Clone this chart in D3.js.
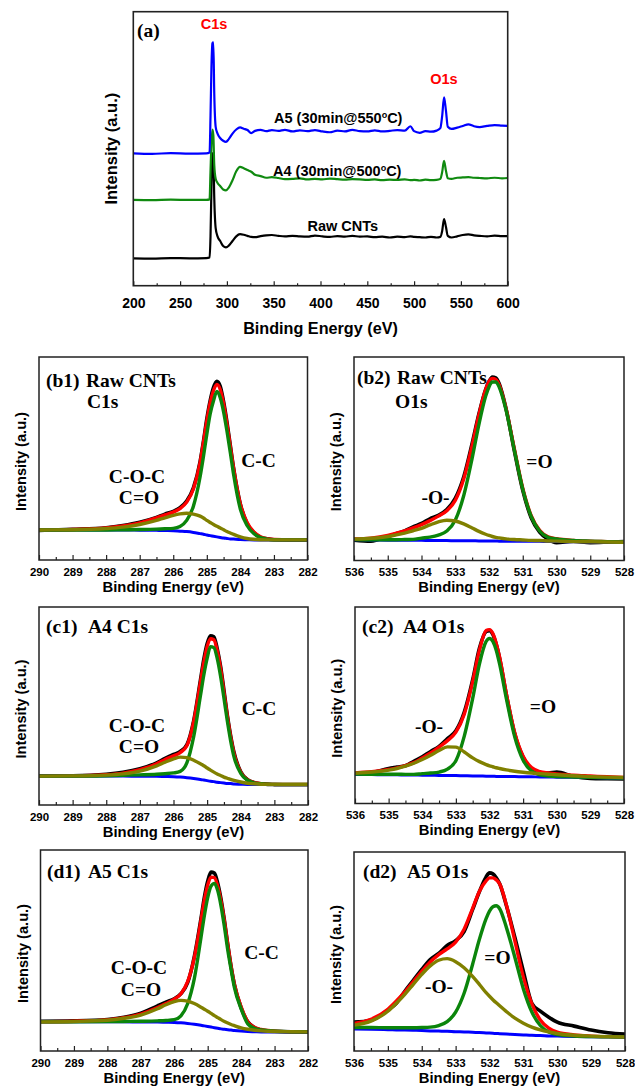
<!DOCTYPE html>
<html>
<head>
<meta charset="utf-8">
<script src="https://cdn.jsdelivr.net/npm/d3@7"></script>
<style>
  body { margin: 0; background: #fff; }
</style>
</head>
<body>
<div id="chart"></div>
<script>
// ---- survey spectra (a): binding energy grid and intensities (arb. units, 0 = frame bottom, 100 = frame top)
const surveyEnergy = [200, 220, 240, 260, 278, 281.5, 282.5, 283.5, 284.5, 285.5, 286.5, 288, 290, 293, 296, 299, 302, 306, 310, 314, 318, 322, 326, 330, 336, 342, 348, 355, 362, 370, 378, 386, 394, 402, 410, 418, 426, 434, 442, 450, 458, 466, 474, 482, 490, 496, 500, 506, 512, 518, 524, 528, 530, 532, 534, 536, 540, 546, 552, 558, 564, 570, 578, 586, 594, 600];
const surveyRaw = [10.0, 9.9, 10.1, 10.0, 10.1, 10.3, 18, 36, 47.5, 48.5, 32, 21, 18, 16.2, 14.5, 14.0, 14.6, 16.3, 18.0, 18.8, 18.6, 18.2, 17.8, 17.7, 18.1, 18.4, 18.5, 18.2, 18.0, 18.2, 18.0, 17.9, 18.3, 18.0, 17.8, 18.1, 17.9, 18.2, 17.9, 18.0, 17.7, 17.9, 17.6, 17.9, 17.7, 18.0, 17.8, 17.7, 17.6, 17.8, 17.6, 17.8, 20.0, 24.3, 21.5, 18.2, 17.6, 18.0, 18.5, 18.7, 18.4, 18.2, 18.0, 18.3, 18.1, 18.1];
const surveyA4 = [31.3, 31.2, 31.4, 31.3, 31.3, 31.5, 42, 52, 57, 55, 44, 39, 37.5, 36.3, 35.1, 34.8, 35.8, 38.5, 41.8, 43.4, 42.9, 42.2, 41.6, 40.5, 40.0, 39.4, 39.6, 39.3, 38.9, 39.0, 39.2, 38.8, 39.0, 38.8, 39.1, 38.9, 38.7, 38.9, 38.8, 38.6, 38.8, 38.5, 38.7, 38.6, 38.8, 38.5, 38.6, 38.4, 38.7, 38.5, 38.6, 39.0, 41.5, 45.6, 42.0, 39.2, 39.0, 39.4, 39.5, 39.6, 39.4, 39.3, 39.2, 39.4, 39.2, 39.3];
const surveyA5 = [48.3, 48.1, 48.4, 48.2, 48.3, 48.6, 62, 80, 88.5, 88.8, 70, 58, 55.5, 53.8, 52.9, 52.5, 53.5, 55.5, 57.0, 57.8, 57.3, 56.8, 55.7, 56.5, 56.9, 56.4, 56.8, 56.5, 56.9, 56.3, 56.7, 56.4, 56.8, 56.3, 56.0, 56.6, 56.3, 56.9, 56.4, 56.3, 56.7, 56.3, 56.5, 56.8, 56.6, 58.2, 56.4, 55.8, 56.4, 56.2, 56.6, 57.5, 62.0, 68.7, 64.0, 58.0, 57.2, 57.7, 58.3, 58.9, 58.2, 57.9, 58.3, 58.6, 58.4, 58.3];
const surveyTicks = [200, 250, 300, 350, 400, 450, 500, 550, 600];

// ---- C1s high resolution grid
const c1sEnergy = [290, 289, 288, 287.5, 287, 286.5, 286.25, 286, 285.8, 285.6, 285.4, 285.2, 285.1, 285.0, 284.9, 284.8, 284.7, 284.6, 284.5, 284.4, 284.3, 284.2, 284.0, 283.8, 283.6, 283.4, 283.2, 283.0, 282.5, 282];
const c1sTicks = [290, 289, 288, 287, 286, 285, 284, 283, 282];

// (b1) Raw CNTs C1s
const b1Data  = [14.6, 15.1, 15.9, 17.0, 18.6, 21.0, 22.6, 24.0, 25.8, 29, 35.5, 48.5, 58.5, 69.5, 78.5, 85, 88, 85.5, 78, 68, 56.5, 45, 27.5, 18, 13.5, 11.2, 10.4, 10.0, 9.8, 9.8];
const b1Fit   = [14.8, 15.0, 15.8, 16.8, 18.3, 20.8, 22.2, 23.6, 25.3, 28.5, 35, 48, 58, 68.5, 77.5, 83.5, 86.5, 84, 77, 67, 56, 45, 27.5, 18.5, 13.8, 11.5, 10.5, 10.1, 9.9, 9.9];
const b1Base  = [14.8, 14.8, 14.8, 14.8, 14.7, 14.6, 14.5, 14.4, 14.2, 14.0, 13.6, 13.0, 12.7, 12.3, 12.0, 11.7, 11.4, 11.1, 10.8, 10.6, 10.4, 10.3, 10.1, 10.0, 9.9, 9.9, 9.9, 9.9, 9.9, 9.9];
const b1CC    = [14.8, 14.8, 14.8, 14.9, 15.0, 15.2, 15.4, 15.6, 16.5, 19.5, 26.5, 41, 51, 62, 72, 78.5, 83, 80, 73, 63.5, 53, 42, 25, 17, 13, 11, 10.3, 10, 9.9, 9.9];
const b1COC   = [14.8, 14.9, 15.5, 16.2, 17.5, 19.5, 20.8, 22.0, 22.7, 23.0, 22.6, 21.6, 20.7, 19.5, 18.5, 17.5, 16.6, 15.8, 14.9, 14.0, 13.3, 12.6, 11.4, 10.6, 10.2, 10.0, 9.9, 9.9, 9.9, 9.9];

// (c1) A4 C1s
const c1Data  = [14.7, 14.8, 15.5, 16.5, 18.3, 21.3, 23.5, 25.5, 27, 30.5, 42.5, 63, 73.5, 81.5, 85.5, 85, 79, 70, 58, 45.5, 35, 26.5, 16.8, 12.8, 11.3, 10.7, 10.4, 10.3, 10.2, 10.2];
const c1Fit   = [14.6, 14.7, 15.3, 16.1, 17.8, 20.8, 23.0, 24.8, 26.5, 30, 42, 62, 72, 80, 84, 83.5, 78, 69, 57, 45, 34.5, 26, 16.5, 12.8, 11.4, 10.8, 10.5, 10.4, 10.4, 10.4];
const c1Base  = [14.6, 14.6, 14.6, 14.6, 14.5, 14.5, 14.4, 14.3, 14.1, 13.8, 13.4, 12.9, 12.6, 12.3, 12.0, 11.8, 11.5, 11.3, 11.1, 10.9, 10.8, 10.6, 10.5, 10.4, 10.4, 10.4, 10.4, 10.4, 10.4, 10.4];
const c1CC    = [14.6, 14.6, 14.8, 15.0, 15.2, 15.5, 15.8, 16.2, 17, 21.4, 34.5, 55, 65.5, 74, 80, 79.5, 74, 65, 54, 42.5, 32.4, 24.3, 16, 12.5, 11.2, 10.7, 10.5, 10.4, 10.4, 10.4];
const c1COC   = [14.6, 14.7, 15.1, 15.7, 17.1, 19.8, 21.6, 23.3, 24.2, 23.9, 22.6, 20.8, 19.8, 18.7, 17.6, 16.6, 15.7, 14.9, 14.1, 13.5, 12.9, 12.4, 11.6, 11.0, 10.7, 10.5, 10.4, 10.4, 10.4, 10.4];

// (d1) A5 C1s
const d1Data  = [14.8, 15.0, 15.7, 16.8, 18.8, 22.5, 24.3, 26, 28.5, 34, 47, 66, 76.5, 84.5, 89, 88.5, 83.5, 75.5, 65, 53, 42, 33, 21.5, 14.5, 11.6, 10.5, 10.0, 9.8, 9.5, 9.4];
const d1Fit   = [14.5, 14.8, 15.5, 16.6, 18.4, 21.6, 23.6, 25.8, 28.5, 34.5, 46.5, 65, 75, 82.5, 86.5, 86.3, 82, 74.5, 64.5, 53, 42, 33, 22, 14.5, 11.8, 10.7, 10.2, 9.9, 9.6, 9.5];
const d1Base  = [14.5, 14.5, 14.5, 14.5, 14.4, 14.4, 14.3, 14.2, 14.0, 13.7, 13.3, 12.8, 12.5, 12.2, 11.9, 11.6, 11.3, 11.0, 10.8, 10.6, 10.4, 10.2, 9.9, 9.7, 9.6, 9.5, 9.5, 9.5, 9.5, 9.5];
const d1CC    = [14.5, 14.5, 14.6, 14.7, 14.8, 15.0, 15.2, 15.6, 17.5, 23.5, 36, 56.5, 67.3, 76.3, 82, 83.4, 79.8, 72.1, 61.8, 50.3, 40.5, 31.5, 21, 13.5, 11.3, 10.5, 10.1, 9.8, 9.6, 9.5];
const d1COC   = [14.5, 14.7, 15.3, 16.3, 17.9, 21, 23, 24.6, 25.2, 24.8, 23.6, 21.8, 20.8, 19.8, 18.7, 17.6, 16.6, 15.6, 14.7, 13.9, 13.2, 12.6, 11.5, 10.8, 10.3, 10.0, 9.8, 9.7, 9.6, 9.5];

// ---- O1s high resolution grid
const o1sEnergy = [536, 535.5, 535, 534.75, 534.5, 534.25, 534, 533.75, 533.5, 533.25, 533, 532.75, 532.5, 532.3, 532.1, 532.0, 531.9, 531.8, 531.7, 531.5, 531.25, 531, 530.75, 530.5, 530.25, 530, 529.5, 529, 528.5, 528];
const o1sTicks = [536, 535, 534, 533, 532, 531, 530, 529, 528];

// (b2) Raw CNTs O1s
const b2Data  = [10.0, 9.5, 11.8, 13.2, 14.5, 16.5, 18.2, 20.5, 22.2, 25, 30.5, 41, 57.5, 72, 84, 88, 90.2, 89.8, 87, 75, 54, 34.5, 21, 14, 10.5, 8.8, 9.5, 8.8, 9.0, 9.3];
const b2Fit   = [10.6, 11.0, 12.3, 13.4, 14.6, 16, 17.6, 19.6, 21.8, 24.5, 29.5, 40, 56.5, 71.5, 84, 88, 89.5, 89, 86.4, 75, 55, 35.5, 22, 14.8, 11.6, 10.7, 9.9, 9.5, 9.3, 9.1];
const b2Base  = [10.2, 10.1, 10.0, 10.0, 9.9, 9.9, 9.9, 9.8, 9.8, 9.8, 9.7, 9.7, 9.7, 9.6, 9.6, 9.6, 9.6, 9.6, 9.5, 9.5, 9.5, 9.4, 9.4, 9.4, 9.3, 9.3, 9.2, 9.1, 9.1, 9.0];
const b2DblO  = [10.3, 10.2, 10.2, 10.2, 10.3, 10.4, 11, 11.5, 12.5, 14.5, 19.8, 31.8, 50.2, 66.8, 80.7, 85.3, 87.7, 87.7, 85.3, 74.3, 54.4, 35.1, 21.7, 14.5, 11.4, 10.6, 9.8, 9.5, 9.3, 9.1];
const b2SglO  = [10.5, 10.9, 11.8, 12.6, 13.5, 14.6, 15.8, 17.5, 19.0, 19.8, 19.4, 18.0, 16.0, 14.3, 12.9, 12.3, 11.8, 11.4, 11.1, 10.6, 10.3, 10.1, 9.9, 9.8, 9.6, 9.5, 9.3, 9.2, 9.1, 9.0];

// (c2) A4 O1s
const c2Data  = [15.0, 15.8, 17.8, 18.5, 19.2, 21.5, 23.8, 26.5, 29, 33, 37, 46.5, 63, 79, 87.5, 88, 86, 81, 74, 55.5, 35.5, 23.5, 17.5, 15.5, 15.5, 16.0, 13.8, 12.8, 12.6, 12.5];
const c2Fit   = [15.6, 16.2, 17.3, 18.1, 19.3, 20.8, 23.2, 25.7, 28.7, 32, 36.3, 45.5, 62, 78, 88, 88.5, 86.5, 81.5, 74.5, 56, 36, 24, 18.3, 16.2, 15.5, 15.0, 14.4, 14.0, 13.6, 13.3];
const c2Base  = [14.8, 14.7, 14.6, 14.6, 14.5, 14.5, 14.4, 14.4, 14.3, 14.3, 14.2, 14.1, 14.0, 14.0, 13.9, 13.9, 13.9, 13.8, 13.8, 13.7, 13.7, 13.6, 13.6, 13.5, 13.5, 13.4, 13.3, 13.2, 13.0, 12.9];
const c2DblO  = [15.0, 14.9, 14.9, 14.9, 14.8, 14.8, 15.2, 15.5, 16.0, 17.5, 21.8, 34.3, 53.5, 71, 82.5, 84, 82.5, 78, 71, 53.5, 33.9, 22, 16.5, 14.6, 14.0, 13.7, 13.5, 13.3, 13.1, 13.0];
const c2SglO  = [15.4, 16.0, 17.0, 17.8, 19.0, 20.5, 22.4, 24.6, 27.0, 28.8, 28.7, 26.2, 23.2, 21.3, 19.8, 19.2, 18.7, 18.2, 17.8, 17.1, 16.4, 15.9, 15.5, 15.2, 14.9, 14.6, 14.1, 13.7, 13.4, 13.2];

// (d2) A5 O1s
const d2Data  = [14.5, 15.5, 20.5, 24, 30, 35.5, 41, 46, 49, 53, 55.5, 60, 71, 80, 87.5, 89.5, 89, 87, 84, 73, 57, 40, 24, 20, 17, 14.5, 12.5, 10.5, 9.2, 8.5];
const d2Fit   = [13.8, 15.9, 21, 25.1, 29.7, 34.8, 40, 44.7, 48.4, 51.3, 54.7, 61.2, 71.6, 80.2, 85.5, 87, 87, 86, 84, 73.3, 55.2, 37.1, 23.7, 15.6, 11.5, 9.5, 8.1, 7.5, 7.2, 7.0];
const d2Base  = [11.0, 10.9, 10.7, 10.6, 10.5, 10.4, 10.3, 10.1, 10.0, 9.9, 9.7, 9.6, 9.4, 9.3, 9.1, 9.0, 8.9, 8.8, 8.7, 8.5, 8.3, 8.1, 7.9, 7.8, 7.6, 7.5, 7.3, 7.2, 7.1, 7.0];
const d2DblO  = [11.8, 11.8, 11.7, 11.7, 11.7, 11.7, 11.8, 12.0, 12.8, 14.8, 19.5, 29, 43.5, 56, 66.5, 70.3, 72.5, 73, 71.5, 62, 47, 31.2, 19.6, 12.8, 9.5, 8.2, 7.5, 7.2, 7.1, 7.0];
const d2SglO  = [13, 15, 20, 24, 28.5, 33.5, 38.5, 42.8, 45.6, 46.4, 44.9, 41.8, 37.5, 33.5, 29.3, 27.5, 25.8, 24.2, 22.7, 19.8, 16.5, 14, 12, 10.6, 9.6, 8.8, 7.9, 7.5, 7.2, 7.0];

// ---------------------------------------------------------------------------
const W = 635, H = 1090;
const SANS = '"Liberation Sans", Arial, sans-serif';
const SERIF = '"Liberation Serif", "Times New Roman", serif';
const colBlack = '#000000', colRed = '#ff0000', colBlue = '#0000ff', colGreen = '#0b850b', colOlive = '#808000';

const svg = d3.select('#chart').append('svg')
    .attr('width', W)
    .attr('height', H)
    .style('display', 'block');

svg.append('rect').attr('width', W).attr('height', H).attr('fill', '#fff');

function addText(x, y, txt, opts) {
    opts = opts || {};
    return svg.append('text')
        .attr('x', x)
        .attr('y', y)
        .attr('font-family', opts.serif ? SERIF : SANS)
        .attr('font-weight', 'bold')
        .attr('font-size', opts.size || 14)
        .attr('text-anchor', opts.anchor || 'start')
        .attr('fill', opts.fill || '#000')
        .text(txt);
}

function styleTicks(g, size) {
    g.select('.domain').remove();
    g.selectAll('line').attr('stroke', '#222').attr('stroke-width', 1.2);
    g.selectAll('text')
        .attr('font-family', SANS)
        .attr('font-weight', 'bold')
        .attr('font-size', size)
        .attr('fill', '#000');
}

//---------------- panel (a): survey
(function () {
    const x0 = 133.3, x1 = 507.7, y0 = 11.7, y1 = 285.7;
    const x = d3.scaleLinear().domain([200, 600]).range([x0, x1]);
    const y = d3.scaleLinear().domain([0, 100]).range([y1, y0]);

    const line = d3.line()
        .x((d, i) => x(surveyEnergy[i]))
        .y(d => y(d))
        .curve(d3.curveMonotoneX);

    [[surveyRaw, colBlack], [surveyA4, '#108a10'], [surveyA5, colBlue]].forEach(function (s) {
        svg.append('path')
            .datum(s[0])
            .attr('d', line)
            .attr('fill', 'none')
            .attr('stroke', s[1])
            .attr('stroke-width', 2.2)
            .attr('stroke-linejoin', 'round');
    });

    //major and minor ticks, pointing inwards
    svg.append('g')
        .attr('transform', 'translate(0,' + y1 + ')')
        .call(d3.axisBottom(x).tickValues(surveyTicks).tickSize(-4.5).tickPadding(12.5).tickFormat(d3.format('d')))
        .call(g => styleTicks(g, 14));
    svg.append('g')
        .attr('transform', 'translate(0,' + y1 + ')')
        .call(d3.axisBottom(x).tickValues(surveyTicks.slice(1).map(v => v - 25)).tickSize(-2.5).tickFormat(''))
        .call(g => styleTicks(g, 14));

    svg.append('rect')
        .attr('x', x0).attr('y', y0)
        .attr('width', x1 - x0).attr('height', y1 - y0)
        .attr('fill', 'none').attr('stroke', '#222').attr('stroke-width', 1.6);

    addText(137, 36.5, '(a)', {serif: true, size: 19.5});
    addText(214, 28.5, 'C1s', {anchor: 'middle', size: 14.5, fill: colRed});
    addText(444, 83.5, 'O1s', {anchor: 'middle', size: 14.5, fill: colRed});

    const t5 = addText(274, 123.3, '', {size: 14.5});
    t5.append('tspan').text('A5 (30min@550');
    t5.append('tspan').attr('dy', -5.5).attr('font-size', 9).text('o');
    t5.append('tspan').attr('dy', 5.5).text('C)');
    const t4 = addText(273, 176, '', {size: 14.5});
    t4.append('tspan').text('A4 (30min@500');
    t4.append('tspan').attr('dy', -5.5).attr('font-size', 9).text('o');
    t4.append('tspan').attr('dy', 5.5).text('C)');
    addText(307.5, 230.7, 'Raw CNTs', {size: 14.5});

    addText((x0 + x1) / 2, 334, 'Binding Energy (eV)', {anchor: 'middle', size: 16.2});
    svg.append('text')
        .attr('transform', 'translate(116.5,' + ((y0 + y1) / 2) + ') rotate(-90)')
        .attr('text-anchor', 'middle')
        .attr('font-family', SANS).attr('font-weight', 'bold').attr('font-size', 16.5)
        .text('Intensity (a.u.)');
})();

//---------------- high-resolution panels
const panels = [
    {id: 'b1', x0: 39, x1: 307.5, y0: 357, y1: 560, domain: [290, 282], energy: c1sEnergy, ticks: c1sTicks,
        series: [b1Data, b1Fit, b1Base, b1CC, b1COC]},
    {id: 'b2', x0: 354, x1: 624, y0: 357, y1: 560.5, domain: [536, 528], energy: o1sEnergy, ticks: o1sTicks,
        series: [b2Data, b2Fit, b2Base, b2DblO, b2SglO]},
    {id: 'c1', x0: 39, x1: 308, y0: 607, y1: 805, domain: [290, 282], energy: c1sEnergy, ticks: c1sTicks,
        series: [c1Data, c1Fit, c1Base, c1CC, c1COC]},
    {id: 'c2', x0: 355, x1: 624, y0: 607, y1: 803.5, domain: [536, 528], energy: o1sEnergy, ticks: o1sTicks,
        series: [c2Data, c2Fit, c2Base, c2DblO, c2SglO]},
    {id: 'd1', x0: 40.5, x1: 308, y0: 850, y1: 1051, domain: [290, 282], energy: c1sEnergy, ticks: c1sTicks,
        series: [d1Data, d1Fit, d1Base, d1CC, d1COC]},
    {id: 'd2', x0: 354, x1: 625, y0: 852, y1: 1051, domain: [536, 528], energy: o1sEnergy, ticks: o1sTicks,
        series: [d2Data, d2Fit, d2Base, d2DblO, d2SglO]}
];
const seriesColors = [colBlack, colRed, colBlue, colGreen, colOlive];
const seriesWidths = [3.6, 3.4, 3.0, 3.4, 3.4];

panels.forEach(function (p) {
    const x = d3.scaleLinear().domain(p.domain).range([p.x0, p.x1]);
    const y = d3.scaleLinear().domain([0, 100]).range([p.y1, p.y0]);

    svg.append('clipPath').attr('id', 'clip-' + p.id)
        .append('rect')
        .attr('x', p.x0).attr('y', p.y0)
        .attr('width', p.x1 - p.x0).attr('height', p.y1 - p.y0);

    const line = d3.line()
        .x((d, i) => x(p.energy[i]))
        .y(d => y(d))
        .curve(d3.curveMonotoneX);

    const gLines = svg.append('g').attr('clip-path', 'url(#clip-' + p.id + ')');
    p.series.forEach(function (vals, k) {
        gLines.append('path')
            .datum(vals)
            .attr('d', line)
            .attr('fill', 'none')
            .attr('stroke', seriesColors[k])
            .attr('stroke-width', seriesWidths[k])
            .attr('stroke-linejoin', 'round')
            .attr('stroke-linecap', 'round');
    });

    svg.append('g')
        .attr('transform', 'translate(0,' + p.y1 + ')')
        .call(d3.axisBottom(x).tickValues(p.ticks).tickSize(-5).tickPadding(7.5).tickFormat(d3.format('d')))
        .call(g => styleTicks(g, 11.5));
    svg.append('g')
        .attr('transform', 'translate(0,' + p.y1 + ')')
        .call(d3.axisBottom(x).tickValues(p.ticks.slice(1).map(v => v + 0.5)).tickSize(-3).tickFormat(''))
        .call(g => styleTicks(g, 11.5));

    svg.append('rect')
        .attr('x', p.x0).attr('y', p.y0)
        .attr('width', p.x1 - p.x0).attr('height', p.y1 - p.y0)
        .attr('fill', 'none').attr('stroke', '#222').attr('stroke-width', 1.5);

    addText((p.x0 + p.x1) / 2, p.y1 + 31.5, 'Binding Energy (eV)', {anchor: 'middle', size: 14.8});
    svg.append('text')
        .attr('transform', 'translate(' + (p.x0 - 13) + ',' + ((p.y0 + p.y1) / 2 + 3) + ') rotate(-90)')
        .attr('text-anchor', 'middle')
        .attr('font-family', SANS).attr('font-weight', 'bold').attr('font-size', 14.6)
        .text('Intensity (a.u.)');
});

//---------------- annotations (serif, bold)
const S = {serif: true, size: 19.5};
const SM = {serif: true, size: 19.5, anchor: 'middle'};

addText(46, 387, '(b1)', S);
addText(86, 387, 'Raw CNTs', S);
addText(87, 407.5, 'C1s', S);
addText(137, 483, 'C-O-C', SM);
addText(139, 504, 'C=O', SM);
addText(258.5, 467, 'C-C', SM);

addText(357, 384, '(b2)', S);
addText(397, 384, 'Raw CNTs', S);
addText(395, 407.5, 'O1s', S);
addText(539.5, 468, '=O', SM);
addText(435.5, 504, '-O-', SM);

addText(46, 633, '(c1)', S);
addText(88, 633, 'A4 C1s', S);
addText(137, 732, 'C-O-C', SM);
addText(139, 753, 'C=O', SM);
addText(259, 715, 'C-C', SM);

addText(362, 633, '(c2)', S);
addText(403, 633, 'A4 O1s', S);
addText(543, 713, '=O', SM);
addText(429, 733, '-O-', SM);

addText(47, 878, '(d1)', S);
addText(88, 878, 'A5 C1s', S);
addText(139, 974, 'C-O-C', SM);
addText(141, 996, 'C=O', SM);
addText(261.5, 959, 'C-C', SM);

addText(363, 878, '(d2)', S);
addText(407, 878, 'A5 O1s', S);
addText(497.5, 964, '=O', SM);
addText(439, 993, '-O-', SM);
</script>
</body>
</html>
